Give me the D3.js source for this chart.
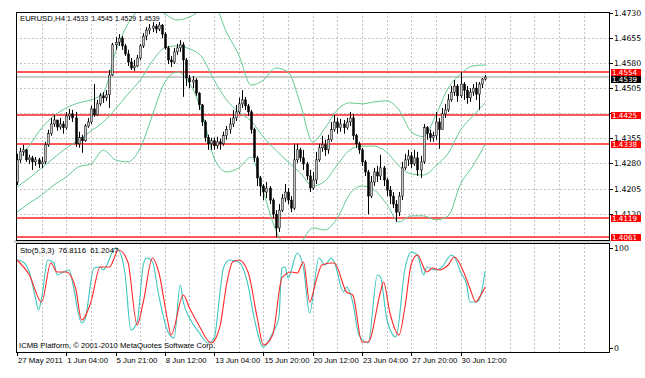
<!DOCTYPE html>
<html>
<head>
<meta charset="utf-8">
<script src="https://cdn.jsdelivr.net/npm/d3@7"></script>
<style>
body { margin: 0; background: #fff; }
svg { display: block; }
</style>
</head>
<body>
<svg id="chart" width="645" height="378"></svg>
<script>
const titleParts = ['EURUSD,H4', '1.4533', '1.4545', '1.4529', '1.4539'];
const titleX = [20, 67, 91.5, 115, 138.5];
const stochTitle = 'Sto(5,3,3) 76.8116 61.2047';
const copyright = 'ICMB Platform, \u00a9 2001-2010 MetaQuotes Software Corp.';

const firstOpen = 1.4226;
const closes = [
    1.4292, 1.4316, 1.4322, 1.4292, 1.4298, 1.4286, 1.4292, 1.4280, 1.4286, 1.4337,
    1.4370, 1.4399, 1.4411, 1.4390, 1.4399, 1.4388, 1.4423, 1.4429, 1.4417, 1.4340,
    1.4358, 1.4349, 1.4393, 1.4405, 1.4444, 1.4426, 1.4459, 1.4483, 1.4477, 1.4486,
    1.4545, 1.4635, 1.4643, 1.4655, 1.4632, 1.4608, 1.4584, 1.4566, 1.4572, 1.4596,
    1.4632, 1.4661, 1.4679, 1.4685, 1.4691, 1.4682, 1.4694, 1.4667, 1.4626, 1.4590,
    1.4584, 1.4614, 1.4626, 1.4635, 1.4590, 1.4536, 1.4524, 1.4530, 1.4491, 1.4456,
    1.4405, 1.4358, 1.4340, 1.4349, 1.4334, 1.4346, 1.4340, 1.4364, 1.4382, 1.4399,
    1.4417, 1.4435, 1.4459, 1.4471, 1.4453, 1.4435, 1.4382, 1.4298, 1.4238, 1.4214,
    1.4196, 1.4208, 1.4172, 1.4130, 1.4089, 1.4142, 1.4178, 1.4196, 1.4172, 1.4148,
    1.4292, 1.4322, 1.4298, 1.4280, 1.4244, 1.4208, 1.4232, 1.4292, 1.4328, 1.4337,
    1.4322, 1.4352, 1.4382, 1.4405, 1.4388, 1.4399, 1.4388, 1.4405, 1.4417, 1.4364,
    1.4340, 1.4322, 1.4286, 1.4256, 1.4184, 1.4226, 1.4256, 1.4244, 1.4268, 1.4232,
    1.4202, 1.4184, 1.4160, 1.4136, 1.4184, 1.4268, 1.4292, 1.4304, 1.4280, 1.4298,
    1.4262, 1.4286, 1.4388, 1.4370, 1.4358, 1.4364, 1.4405, 1.4382, 1.4429, 1.4441,
    1.4471, 1.4494, 1.4512, 1.4483, 1.4518, 1.4500, 1.4477, 1.4494, 1.4506, 1.4488,
    1.4518, 1.4533, 1.4539
];
const highs = [
    1.4310, 1.4328, 1.4337, 1.4325, 1.4307, 1.4304, 1.4301, 1.4298, 1.4301, 1.4346,
    1.4382, 1.4417, 1.4426, 1.4411, 1.4417, 1.4408, 1.4435, 1.4444, 1.4441, 1.4435,
    1.4376, 1.4367, 1.4399, 1.4417, 1.4453, 1.4518, 1.4471, 1.4491, 1.4494, 1.4500,
    1.4560, 1.4641, 1.4658, 1.4667, 1.4661, 1.4638, 1.4620, 1.4596, 1.4590, 1.4605,
    1.4638, 1.4670, 1.4688, 1.4697, 1.4703, 1.4697, 1.4703, 1.4697, 1.4673, 1.4632,
    1.4602, 1.4626, 1.4638, 1.4649, 1.4643, 1.4596, 1.4545, 1.4542, 1.4536, 1.4494,
    1.4459, 1.4411, 1.4367, 1.4358, 1.4358, 1.4361, 1.4355, 1.4376, 1.4393, 1.4417,
    1.4441, 1.4456, 1.4477, 1.4500, 1.4480, 1.4459, 1.4441, 1.4388, 1.4304, 1.4244,
    1.4220, 1.4226, 1.4214, 1.4178, 1.4142, 1.4160, 1.4190, 1.4220, 1.4208, 1.4184,
    1.4340, 1.4340, 1.4328, 1.4322, 1.4286, 1.4262, 1.4256, 1.4316, 1.4340, 1.4364,
    1.4352, 1.4367, 1.4405, 1.4426, 1.4417, 1.4414, 1.4411, 1.4417, 1.4435, 1.4429,
    1.4370, 1.4346, 1.4328, 1.4292, 1.4262, 1.4244, 1.4268, 1.4274, 1.4307, 1.4274,
    1.4238, 1.4214, 1.4196, 1.4172, 1.4196, 1.4286, 1.4310, 1.4322, 1.4316, 1.4322,
    1.4316, 1.4304, 1.4399, 1.4393, 1.4382, 1.4376, 1.4435, 1.4417, 1.4447, 1.4459,
    1.4488, 1.4512, 1.4530, 1.4518, 1.4554, 1.4524, 1.4512, 1.4506, 1.4518, 1.4524,
    1.4524, 1.4536, 1.4545
];
const lows = [
    1.4217, 1.4283, 1.4304, 1.4286, 1.4280, 1.4262, 1.4274, 1.4268, 1.4268, 1.4280,
    1.4331, 1.4364, 1.4390, 1.4379, 1.4382, 1.4370, 1.4382, 1.4411, 1.4405, 1.4331,
    1.4328, 1.4313, 1.4346, 1.4388, 1.4399, 1.4420, 1.4423, 1.4453, 1.4462, 1.4468,
    1.4447, 1.4542, 1.4620, 1.4632, 1.4620, 1.4602, 1.4572, 1.4560, 1.4557, 1.4569,
    1.4590, 1.4626, 1.4649, 1.4667, 1.4673, 1.4670, 1.4676, 1.4655, 1.4620, 1.4578,
    1.4569, 1.4578, 1.4605, 1.4614, 1.4480, 1.4512, 1.4506, 1.4506, 1.4483, 1.4441,
    1.4393, 1.4346, 1.4322, 1.4322, 1.4322, 1.4325, 1.4322, 1.4334, 1.4352, 1.4370,
    1.4390, 1.4408, 1.4429, 1.4447, 1.4441, 1.4423, 1.4370, 1.4286, 1.4214, 1.4184,
    1.4172, 1.4178, 1.4160, 1.4118, 1.4061, 1.4077, 1.4136, 1.4166, 1.4160, 1.4136,
    1.4142, 1.4283, 1.4286, 1.4262, 1.4232, 1.4196, 1.4202, 1.4220, 1.4286, 1.4316,
    1.4304, 1.4310, 1.4346, 1.4376, 1.4370, 1.4376, 1.4370, 1.4382, 1.4393, 1.4352,
    1.4328, 1.4310, 1.4274, 1.4244, 1.4130, 1.4178, 1.4214, 1.4226, 1.4232, 1.4214,
    1.4184, 1.4160, 1.4148, 1.4107, 1.4124, 1.4172, 1.4262, 1.4274, 1.4268, 1.4274,
    1.4244, 1.4238, 1.4280, 1.4352, 1.4346, 1.4346, 1.4352, 1.4325, 1.4382, 1.4417,
    1.4435, 1.4465, 1.4483, 1.4465, 1.4477, 1.4471, 1.4459, 1.4465, 1.4483, 1.4471,
    1.4441, 1.4506, 1.4529
];

// Bollinger bands, read every 4th bar
const bandStep = 4;
const bandUpper = [
    1.4286, 1.4334, 1.4387, 1.4423, 1.4447, 1.4462, 1.4471, 1.4491, 1.4614, 1.4697,
    1.4739, 1.4745, 1.4727, 1.4709, 1.4718, 1.4739, 1.4751, 1.4673, 1.4605, 1.4515,
    1.4530, 1.4566, 1.4554, 1.4459, 1.4345, 1.4387, 1.4441, 1.4462, 1.4459, 1.4465,
    1.4468, 1.4441, 1.4376, 1.4361, 1.4426, 1.4506, 1.4548, 1.4572, 1.4575
];
const bandMiddle = [
    1.4211, 1.4238, 1.4268, 1.4298, 1.4327, 1.4351, 1.4378, 1.4405, 1.4444, 1.4488,
    1.4530, 1.4587, 1.4626, 1.4632, 1.4623, 1.4599, 1.4530, 1.4471, 1.4435, 1.4408,
    1.4360, 1.4321, 1.4286, 1.4253, 1.4214, 1.4229, 1.4277, 1.4321, 1.4333, 1.4333,
    1.4315, 1.4274, 1.4250, 1.4247, 1.4274, 1.4312, 1.4381, 1.4423, 1.4462
];
const bandLower = [
    1.4136, 1.4163, 1.4187, 1.4217, 1.4241, 1.4271, 1.4280, 1.4321, 1.4292, 1.4286,
    1.4327, 1.4426, 1.4524, 1.4554, 1.4521, 1.4435, 1.4297, 1.4256, 1.4268, 1.4300,
    1.4196, 1.4083, 1.4029, 1.4044, 1.4089, 1.4083, 1.4119, 1.4190, 1.4214, 1.4202,
    1.4160, 1.4107, 1.4125, 1.4125, 1.4113, 1.4125, 1.4220, 1.4274, 1.4339
];

// Stochastic %K and %D as [bar, value]
const stochK = [
    [0, 88], [2, 86], [4, 76], [6, 50], [7, 38], [8, 50], [10, 88], [12, 85], [13, 73], [15, 76],
    [17, 78], [18, 66], [21, 25], [22, 28], [25, 80], [27, 81], [28, 78], [32, 100], [33, 98], [35, 76],
    [37, 18], [39, 26], [41, 83], [42, 90], [44, 86], [46, 53], [49, 16], [51, 10], [53, 63], [54, 46],
    [56, 30], [59, 16], [62, 5], [64, 10], [66, 58], [67, 80], [69, 88], [72, 86], [75, 63], [77, 30],
    [80, 1], [83, 15], [85, 30], [86, 80], [87, 81], [88, 70], [91, 95], [93, 80], [95, 35], [98, 90],
    [100, 83], [102, 90], [103, 86], [106, 56], [107, 61], [109, 46], [111, 13], [114, 5], [117, 73], [118, 71],
    [120, 30], [123, 11], [126, 80], [128, 96], [130, 93], [132, 73], [133, 81], [136, 78], [138, 81], [141, 93],
    [142, 91], [144, 76], [146, 63], [147, 46], [149, 46], [150, 48], [152, 77]
];
const stochD = [
    [0, 88], [4, 73], [8, 46], [11, 85], [13, 76], [16, 76], [19, 60], [21, 28], [24, 46], [27, 81],
    [30, 81], [33, 98], [36, 86], [39, 23], [41, 46], [44, 90], [46, 76], [49, 26], [50, 13], [54, 53],
    [56, 40], [59, 23], [63, 5], [65, 13], [66, 23], [68, 63], [70, 86], [72, 88], [75, 76], [78, 30],
    [80, 3], [83, 13], [86, 70], [89, 76], [91, 75], [93, 86], [95, 46], [97, 66], [99, 83], [102, 85],
    [103, 85], [107, 56], [109, 53], [112, 6], [114, 6], [118, 56], [119, 66], [121, 36], [124, 13], [126, 42],
    [128, 84], [130, 93], [133, 76], [135, 80], [137, 78], [140, 83], [142, 91], [145, 76], [147, 60], [149, 46],
    [150, 50], [152, 61]
];

// 1.4430 sits under the 1.4425 tag, so it is not printed
const priceTicks = [1.4130, 1.4205, 1.4280, 1.4355, 1.4430, 1.4505, 1.4580, 1.4655, 1.4730];
const hiddenTicks = [1.4430];
const levels = [1.4554, 1.4425, 1.4338, 1.4119, 1.4061];
const lastPrice = 1.4539;
const timeLabels = ['27 May 2011', '1 Jun 04:00', '5 Jun 21:00', '8 Jun 12:00', '13 Jun 04:00',
    '15 Jun 20:00', '20 Jun 12:00', '23 Jun 04:00', '27 Jun 20:00', '30 Jun 12:00'];
const labelStep = 16;
const gridStep = 8;

const left = 16;
const right = 609;
const mainTop = 12;
const mainBottom = 240;
const stoTop = 243;
const stoBottom = 352;
const font = '"Liberation Sans", Arial, sans-serif';
const axisFont = '"DejaVu Sans", Tahoma, sans-serif';
const bandColor = '#63c98f';
const levelColor = '#ff2020';
const tagHeight = 7;

const svg = d3.select('#chart');
const x = d3.scaleLinear().domain([0, 192]).range([17, 608.4]);
const y = d3.scaleLinear().domain([1.4053, 1.4733]).range([mainBottom, mainTop]);
const ys = d3.scaleLinear().domain([0, 100]).range([348, 248]);
const px = v => Math.round(v) + 0.5;
const pxDown = v => Math.floor(v) + 0.5;

const bars = closes.map((c, i) => ({
    i, c,
    o: i === 0 ? firstOpen : closes[i - 1],
    h: highs[i],
    l: lows[i],
}));

svg.append('defs').append('clipPath').attr('id', 'mainClip')
    .append('rect').attr('x', left).attr('y', mainTop)
    .attr('width', right - left).attr('height', mainBottom - mainTop);

// grid
const grid = svg.append('g').attr('stroke', '#c4c4c4').attr('stroke-dasharray', '2,2');
const gridBars = d3.range(gridStep, 192, gridStep);
[[mainTop, mainBottom], [stoTop, stoBottom]].forEach(([top, bottom]) => {
    grid.append('g').selectAll('line').data(gridBars).enter().append('line')
        .attr('x1', d => px(x(d))).attr('x2', d => px(x(d)))
        .attr('y1', top).attr('y2', bottom);
});
grid.append('g').selectAll('line').data(priceTicks.slice(0, -1)).enter().append('line')
    .attr('x1', left).attr('x2', right)
    .attr('y1', d => pxDown(y(d))).attr('y2', d => pxDown(y(d)));

// last price and levels
svg.append('line')
    .attr('x1', left).attr('x2', right)
    .attr('y1', y(lastPrice)).attr('y2', y(lastPrice))
    .attr('stroke', '#cccccc').attr('stroke-width', 2);
svg.append('g').selectAll('line').data(levels).enter().append('line')
    .attr('x1', left).attr('x2', right)
    .attr('y1', d => Math.round(y(d))).attr('y2', d => Math.round(y(d)))
    .attr('stroke', levelColor).attr('stroke-width', 1.4);

const main = svg.append('g').attr('clip-path', 'url(#mainClip)');

// bollinger bands
const bandLine = d3.line()
    .x((d, k) => x(k * bandStep))
    .y(d => y(d))
    .curve(d3.curveMonotoneX);
[bandUpper, bandMiddle, bandLower].forEach(band => {
    main.append('path')
        .attr('d', bandLine(band))
        .attr('fill', 'none')
        .attr('stroke', bandColor)
        .attr('stroke-width', 1);
});

// candles
const candle = main.selectAll('.candle').data(bars).enter().append('g');
candle.append('line')
    .attr('x1', d => px(x(d.i))).attr('x2', d => px(x(d.i)))
    .attr('y1', d => y(d.h)).attr('y2', d => y(d.l))
    .attr('stroke', '#000').attr('stroke-width', 1);
candle.append('rect')
    .attr('x', d => Math.round(x(d.i)) - 0.5)
    .attr('width', 2)
    .attr('y', d => y(Math.max(d.o, d.c)))
    .attr('height', d => Math.max(1, Math.abs(y(d.o) - y(d.c))))
    .attr('fill', d => (d.c >= d.o ? '#c4c4c4' : '#000'))
    .attr('stroke', '#000').attr('stroke-width', 0.5);

// stochastic
const stochLine = d3.line()
    .x(d => x(d[0]))
    .y(d => ys(d[1]))
    .curve(d3.curveMonotoneX);
svg.append('path').attr('d', stochLine(stochK))
    .attr('fill', 'none').attr('stroke', '#3cc6bd').attr('stroke-width', 1.1);
svg.append('path').attr('d', stochLine(stochD))
    .attr('fill', 'none').attr('stroke', '#ff2a2a').attr('stroke-width', 1.1);

// frames
svg.append('rect').attr('x', left - 2).attr('y', mainBottom)
    .attr('width', right - left + 4).attr('height', stoTop - mainBottom)
    .attr('fill', '#d4d4d4');
const frame = svg.append('g').attr('stroke', '#000').attr('fill', 'none');
frame.append('rect').attr('x', left + 0.5).attr('y', mainTop + 0.5)
    .attr('width', right - left).attr('height', mainBottom - mainTop);
frame.append('rect').attr('x', left + 0.5).attr('y', stoTop + 0.5)
    .attr('width', right - left).attr('height', stoBottom - stoTop);

// price axis
const priceAxis = svg.append('g');
priceAxis.selectAll('line').data(priceTicks).enter().append('line')
    .attr('x1', right).attr('x2', right + 4)
    .attr('y1', d => pxDown(y(d))).attr('y2', d => pxDown(y(d)))
    .attr('stroke', '#000');
priceAxis.selectAll('text').data(priceTicks.filter(d => !hiddenTicks.includes(d))).enter().append('text')
    .attr('x', right + 5).attr('y', d => y(d) + 2.5)
    .attr('font-family', axisFont).attr('font-size', 7.8)
    .text(d => d.toFixed(4));

// tags: the last-price tag is pushed below the level tag it would collide with
function tagTop(value) {
    return Math.round(y(value)) - 3;
}
function priceTag(value, fill, top) {
    const g = svg.append('g');
    g.append('rect')
        .attr('x', right + 2).attr('y', top)
        .attr('width', 30).attr('height', tagHeight)
        .attr('fill', fill);
    g.append('text')
        .attr('x', right + 3).attr('y', top + 6)
        .attr('font-family', axisFont).attr('font-size', 7.2)
        .attr('fill', '#fff')
        .text(value.toFixed(4));
}
const lastTop = Math.max(tagTop(lastPrice), ...levels
    .map(tagTop)
    .filter(t => Math.abs(t - tagTop(lastPrice)) < tagHeight)
    .map(t => t + tagHeight));
priceTag(lastPrice, '#000', lastTop);
levels.forEach(v => priceTag(v, '#ff0000', tagTop(v)));

// stochastic axis
const stoAxis = svg.append('g');
stoAxis.selectAll('line').data([0, 100]).enter().append('line')
    .attr('x1', right).attr('x2', right + 4)
    .attr('y1', d => px(ys(d))).attr('y2', d => px(ys(d)))
    .attr('stroke', '#000');
stoAxis.selectAll('text').data([0, 100]).enter().append('text')
    .attr('x', right + 5).attr('y', d => ys(d) + 3)
    .attr('font-family', axisFont).attr('font-size', 7.8)
    .text(d => d);

// time axis
const timeAxis = svg.append('g');
timeAxis.selectAll('line').data(timeLabels).enter().append('line')
    .attr('x1', (d, k) => px(x(k * labelStep)))
    .attr('x2', (d, k) => px(x(k * labelStep)))
    .attr('y1', stoBottom).attr('y2', stoBottom + 4)
    .attr('stroke', '#000');
timeAxis.selectAll('text').data(timeLabels).enter().append('text')
    .attr('x', (d, k) => x(k * labelStep) + 1)
    .attr('y', 363)
    .attr('font-family', font).attr('font-size', 7.8)
    .text(d => d);

// captions
svg.append('text').attr('y', 21)
    .attr('font-family', font)
    .selectAll('tspan').data(titleParts).enter().append('tspan')
    .attr('x', (d, k) => titleX[k])
    .attr('font-size', (d, k) => (k === 0 ? 7.8 : 6.9))
    .text(d => d);
svg.append('text').attr('x', 20).attr('y', 253)
    .attr('font-family', font).attr('font-size', 7.8)
    .attr('word-spacing', 2)
    .text(stochTitle);
svg.append('text').attr('x', 19).attr('y', 348)
    .attr('font-family', font).attr('font-size', 7.7)
    .text(copyright);
</script>
</body>
</html>
